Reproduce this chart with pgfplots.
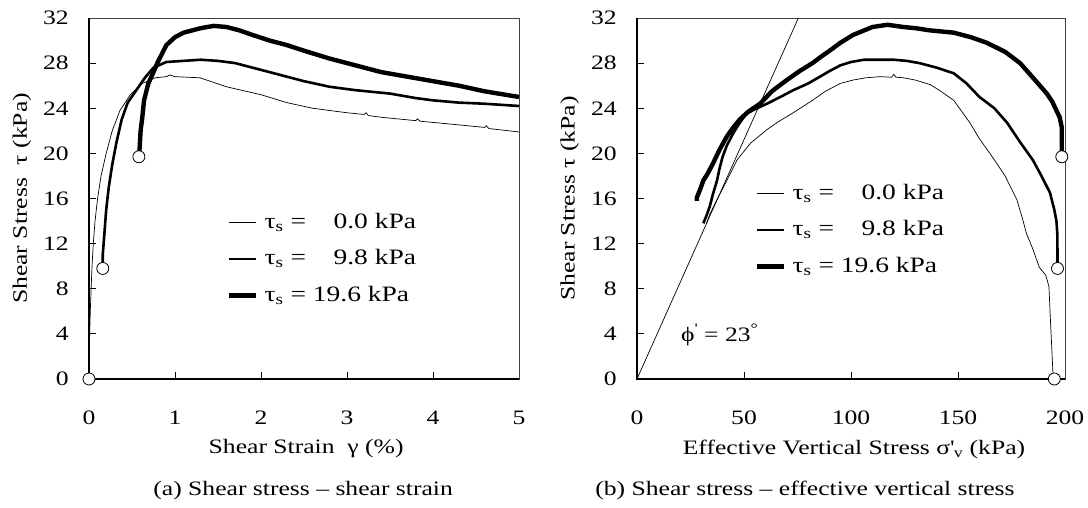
\documentclass[border=0pt]{standalone}
\usepackage{pgfplots}
\pgfplotsset{compat=1.18}
\usepackage{fontspec}
\setmainfont{Liberation Serif}[FakeStretch=1.25]
\newcommand{\lfont}{\fontsize{20.5pt}{24pt}\selectfont}
\newcommand{\gfont}{\fontsize{22pt}{26pt}\selectfont}
\pgfplotsset{
  myax/.style={
    scale only axis, height=361pt, clip=false,
    ymin=0, ymax=32, ytick={0,4,...,32},
    tick align=inside, major tick length=7pt,
    xtick pos=bottom, ytick pos=left,
    axis line style={line width=0.7pt, black!75},
    tick style={line width=0.9pt, black},
    font=\lfont,
    /pgf/number format/assume math mode=true,
    every tick label/.append style={font=\lfont},
    yticklabel style={inner sep=0pt, xshift=-20pt, anchor=east},
    xticklabel style={inner sep=0pt, yshift=-32pt, anchor=north},
    legend cell align=left,
    legend image code/.code={\draw[##1] (0pt,0pt) -- (27pt,0pt);},
    legend style={draw=none, fill=none, inner sep=0pt, row sep=15.5pt, column sep=6pt, font=\gfont,
      nodes={inner sep=0pt, text height=16pt, text depth=5pt}},
  },
  thinL/.style={black, line width=0.7pt},
  medL/.style={black, line width=2.6pt},
  thkL/.style={black, line width=4.4pt},
  circ/.style={only marks, mark=*, mark size=6pt, mark options={fill=white, draw=black, line width=0.8pt}},
}
\begin{document}
\begin{tikzpicture}
\useasboundingbox (0pt,0pt) rectangle (1088pt,508pt);
% ---------- (a) ----------
\begin{axis}[myax, at={(89pt,129pt)}, anchor=south west, width=430pt,
  xmin=0, xmax=5, xtick={0,1,...,5},
  xlabel={Shear Strain\ \ γ (\%)},
  ylabel={Shear Stress\ \ τ (kPa)},
  xlabel style={at={(axis description cs:0.505,-0.194)}, anchor=center},
  ylabel style={at={(axis description cs:-0.156,0.5)}, anchor=center},
  legend style={at={(axis description cs:0.321,0.4626)}, anchor=north west},
]
\draw[line width=1.6pt, black] (rel axis cs:0,1) -- (rel axis cs:0,0) -- (rel axis cs:1,0);
\addplot[thinL] coordinates {
(0,0) (0.003,2) (0.008,4) (0.015,6) (0.025,8) (0.035,10) (0.05,12) (0.07,14) (0.1,16)
(0.14,18) (0.2,20) (0.27,22) (0.36,23.8) (0.48,25.2) (0.62,26.2) (0.77,26.7) (0.9,26.8)
(0.94,26.95) (1.0,26.8) (1.29,26.7) (1.6,25.9) (2.0,25.2) (2.3,24.5) (2.6,24.0) (3.0,23.6)
(3.2,23.45) (3.22,23.6) (3.25,23.35) (3.4,23.2) (3.8,22.9) (3.82,23.05) (3.85,22.85) (4.2,22.6)
(4.6,22.3) (4.62,22.45) (4.65,22.2) (5.0,21.9)};
\addplot[medL] coordinates {
(0.16,9.8) (0.16,11) (0.18,13) (0.2,15) (0.23,17) (0.27,19) (0.32,21) (0.38,23) (0.45,24.5)
(0.55,25.6) (0.65,26.7) (0.75,27.6) (0.9,28.1) (1.1,28.2) (1.3,28.3) (1.5,28.2) (1.7,28.0)
(1.9,27.6) (2.1,27.2) (2.3,26.8) (2.5,26.4) (2.8,25.9) (3.1,25.6) (3.5,25.3) (3.8,24.9)
(4.0,24.7) (4.3,24.5) (4.6,24.4) (5.0,24.2)};
\addplot[thkL] coordinates {
(0.58,19.7) (0.59,20.6) (0.6,22) (0.62,23.2) (0.64,24.7) (0.69,26.2) (0.75,27.2) (0.8,28.1)
(0.9,29.6) (1.0,30.3) (1.1,30.7) (1.2,30.9) (1.3,31.1) (1.45,31.3) (1.6,31.2) (1.75,30.9)
(1.9,30.5) (2.1,30.0) (2.3,29.6) (2.5,29.1) (2.8,28.4) (3.1,27.8) (3.4,27.2) (3.7,26.8)
(4.0,26.4) (4.3,26.0) (4.6,25.5) (5.0,25.0)};
\addplot[circ, forget plot] coordinates {(0,0) (0.16,9.8) (0.58,19.7)};
\legend{τ\textsubscript{s} = \ \phantom{1}0.0 kPa, τ\textsubscript{s} = \ \phantom{1}9.8 kPa, τ\textsubscript{s} = 19.6 kPa}
\node[font=\lfont] at (axis description cs:0.498,-0.31) {(a) Shear stress -- shear strain};
\end{axis}
% ---------- (b) ----------
\begin{axis}[myax, at={(637pt,129pt)}, anchor=south west, width=428pt,
  xmin=0, xmax=200, xtick={0,50,...,200},
  xlabel={Effective Vertical Stress σ\textquotesingle\textsubscript{v} (kPa)},
  ylabel={Shear Stress τ (kPa)},
  xlabel style={at={(axis description cs:0.507,-0.194)}, anchor=center},
  ylabel style={at={(axis description cs:-0.157,0.5)}, anchor=center},
  legend style={at={(axis description cs:0.2757,0.543)}, anchor=north west},
]
\draw[line width=1.6pt, black] (rel axis cs:0,1) -- (rel axis cs:0,0) -- (rel axis cs:1,0);
\addplot[thinL] coordinates {
(194.5,0) (194,2) (193.5,4) (193,6) (192.5,8.2) (191,9.2) (188,9.9) (185,11.5) (182,12.9)
(180,14.3) (177.5,15.9) (172,18) (166,19.7) (160,21.3) (155.6,22.7) (148,24.7) (142,25.5)
(137,26.1) (130,26.5) (124.5,26.7) (121,26.75) (120,27.0) (119,26.75) (113.6,26.8) (107,26.7) (101,26.5)
(95,26.2) (88,25.5) (82,24.7) (73,23.6) (66,22.8) (60.7,22.1) (53,20.9) (46.7,19.4)
(42,17.6) (37.4,15.9) (34,14.6) (32.5,13.8)};
\addplot[medL] coordinates {
(196.5,9.8) (196.5,11) (196.4,12.9) (196,14) (195,15) (193,16.5) (189,18) (185,19.4)
(179,21) (173,22.7) (167,24) (160,25) (154,26.2) (148,27.1) (140,27.6) (132,28.0)
(126,28.2) (120,28.3) (113,28.3) (106,28.3) (100,28.1) (95,27.8) (90,27.3) (85.5,26.8)
(80,26.2) (73,25.6) (67,25.0) (60.7,24.4) (55,23.9) (51,23.5) (48,22.7) (45,21.8)
(42,20.7) (40,19.7) (38.5,18.6) (37.4,17.6) (35.5,16.4) (34,15.3) (32.5,14.5) (31,13.8)};
\addplot[thkL] coordinates {
(198.5,19.7) (198.5,21) (198.5,22.3) (197.5,23.2) (196,23.8) (194,24.6) (191.5,25.3)
(186,26.5) (179,28) (172,29) (163.5,29.8) (156,30.3) (148,30.7) (137,30.9) (130,31.1)
(124.5,31.2) (117,31.4) (110,31.2) (101,30.5) (95,29.8) (90,29.1) (85.5,28.5) (82,28.0)
(76,27.3) (70,26.5) (63,25.5) (57.5,24.4) (52,23.7) (48,23.0) (45,22.3) (42,21.5)
(38.5,20.3) (35.5,19.1) (33,18.2) (31,17.6) (29.5,16.8) (28,16.1) (28,15.8)};
\addplot[thinL, forget plot] coordinates {(0,0) (75.4,32)};
\addplot[circ, forget plot] coordinates {(195,0) (196.5,9.8) (198.5,19.7)};
\legend{τ\textsubscript{s} = \ \phantom{1}0.0 kPa, τ\textsubscript{s} = \ \phantom{1}9.8 kPa, τ\textsubscript{s} = 19.6 kPa}
\node[font=\lfont, anchor=west] at (axis cs:19,3.9) {ϕ\textsuperscript{\textquotesingle} = 23\textsuperscript{°}};
\node[font=\lfont] at (axis description cs:0.3925,-0.31) {(b) Shear stress -- effective vertical stress};
\end{axis}
\end{tikzpicture}
\end{document}
